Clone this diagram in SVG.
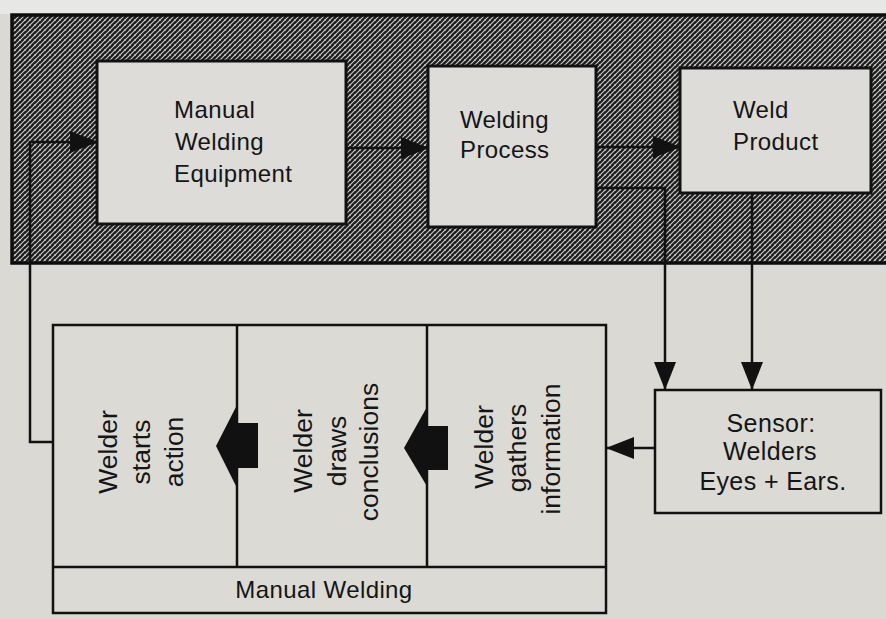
<svg xmlns="http://www.w3.org/2000/svg" width="886" height="619" viewBox="0 0 886 619">
  <style>
    .box { fill: #dddcd9; stroke: #111; stroke-width: 3; }
    .lbox { fill: #dcdad5; stroke: #111; stroke-width: 2.5; }
    .t { font-family: "Liberation Sans", Arial, sans-serif; font-size: 24px; fill: #151515; letter-spacing: 0.4px; }
    .tc { text-anchor: middle; }
    .v { font-family: "Liberation Sans", Arial, sans-serif; font-size: 26.5px; fill: #151515; text-anchor: middle; }
    .conn { fill: none; stroke: #111; stroke-width: 2.5; }
    .blk { fill: #111; stroke: none; }
  </style>
  <defs>
    <pattern id="dither" width="5" height="5" patternUnits="userSpaceOnUse">
      <rect width="5" height="5" fill="#1c1c1c"/>
      <path d="M0,5 L5,0 M-1,1 L1,-1 M4,6 L6,4" stroke="#cfcfcf" stroke-width="1.1"/>
      <path d="M0,0 L5,5 M-1,4 L1,6 M4,-1 L6,1" stroke="#b5b5b5" stroke-width="0.9" stroke-dasharray="1.2 1.6"/>
    </pattern>
    <marker id="ah" markerUnits="userSpaceOnUse" markerWidth="28" markerHeight="22" refX="27" refY="11" orient="auto">
      <path d="M0,0 L28,11 L0,22 Z" fill="#111"/>
    </marker>
  </defs>

  <!-- background -->
  <rect x="0" y="0" width="886" height="619" fill="#dbd9d4"/>
  <rect x="0" y="0" width="886" height="14" fill="#e7e7e5"/>

  <!-- shaded band (Manual Welding system) -->
  <rect x="12" y="15" width="890" height="248" fill="url(#dither)" stroke="#0d0d0d" stroke-width="3.5"/>

  <g id="connectors">
    <path class="conn" d="M53,442 H30 V142 H97" marker-end="url(#ah)"/>
    <path class="conn" d="M346,148 H428" marker-end="url(#ah)"/>
    <path class="conn" d="M596,147 H680" marker-end="url(#ah)"/>
    <path class="conn" d="M596,188 H665 V389" marker-end="url(#ah)"/>
    <path class="conn" d="M752,193 V389" marker-end="url(#ah)"/>
    <path class="conn" d="M655,448 H607" marker-end="url(#ah)"/>
  </g>

  <g id="manual-welding-equipment">
    <rect class="box" x="97" y="61" width="249" height="163"/>
    <text class="t" x="174" y="118">Manual</text>
    <text class="t" x="175" y="150">Welding</text>
    <text class="t" x="174" y="182">Equipment</text>
  </g>

  <g id="welding-process">
    <rect class="box" x="428" y="66" width="168" height="161"/>
    <text class="t" x="460" y="128">Welding</text>
    <text class="t" x="460" y="158">Process</text>
  </g>

  <g id="weld-product">
    <rect class="box" x="680" y="68" width="191" height="125"/>
    <text class="t" x="733" y="118">Weld</text>
    <text class="t" x="733" y="150">Product</text>
  </g>

  <g id="sensor">
    <rect class="lbox" x="655" y="390" width="226" height="123"/>
    <text class="t tc" x="771" y="432" style="font-size:25px">Sensor:</text>
    <text class="t tc" x="770" y="460" style="font-size:25px">Welders</text>
    <text class="t tc" x="773" y="490" style="font-size:25px">Eyes + Ears.</text>
  </g>

  <g id="manual-welding">
    <rect class="lbox" x="53" y="325" width="553" height="288"/>
    <line class="conn" x1="53" y1="567" x2="606" y2="567"/>
    <text class="t tc" x="324" y="598">Manual Welding</text>
  </g>

  <g id="welder-starts-action">
    <text class="v" transform="translate(117,452) rotate(-90)">Welder</text>
    <text class="v" transform="translate(150,452) rotate(-90)">starts</text>
    <text class="v" transform="translate(183,452) rotate(-90)">action</text>
  </g>

  <g id="welder-draws-conclusions">
    <line class="conn" x1="237" y1="325" x2="237" y2="567"/>
    <polygon class="blk" points="238,403 216,446 238,490 238,468 258,468 258,423 238,423"/>
    <text class="v" transform="translate(312,451) rotate(-90)">Welder</text>
    <text class="v" transform="translate(346,451) rotate(-90)">draws</text>
    <text class="v" transform="translate(378,452) rotate(-90)">conclusions</text>
  </g>

  <g id="welder-gathers-information">
    <line class="conn" x1="427" y1="325" x2="427" y2="567"/>
    <polygon class="blk" points="428,405 404,448 428,488 428,470 448,470 448,426 428,426"/>
    <text class="v" transform="translate(493,447) rotate(-90)">Welder</text>
    <text class="v" transform="translate(526,448) rotate(-90)">gathers</text>
    <text class="v" transform="translate(560,449) rotate(-90)">information</text>
  </g>
</svg>
